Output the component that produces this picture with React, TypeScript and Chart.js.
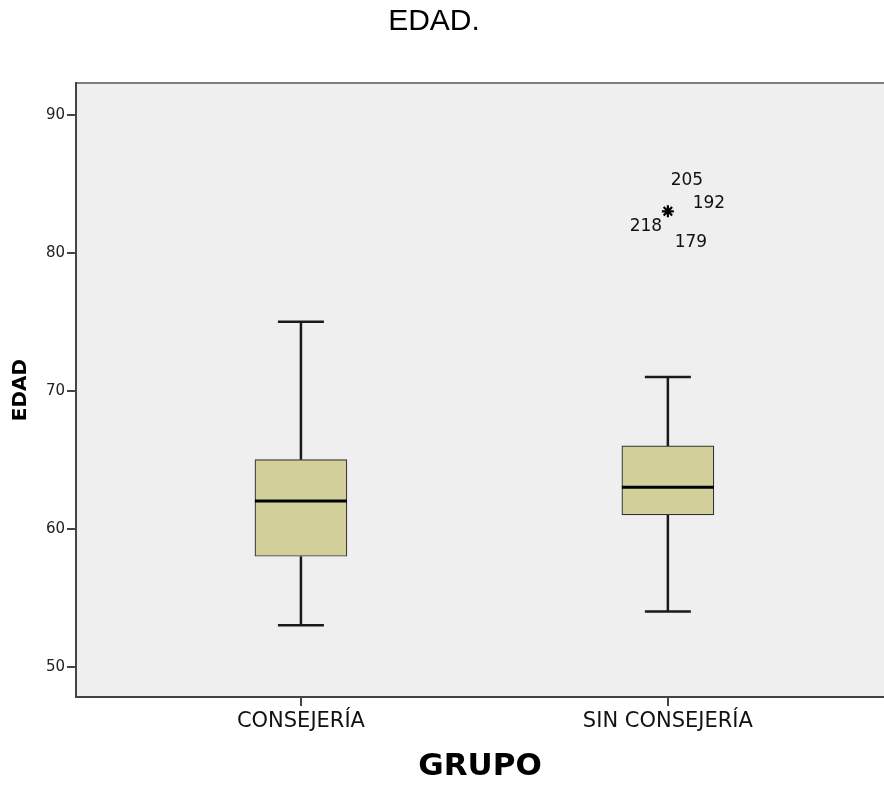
import React, { useEffect, useRef } from 'react';
import { Chart, registerables } from 'chart.js';

Chart.register(...registerables);

const chartTitle = 'EDAD.';
const categories = ['CONSEJERÍA', 'SIN CONSEJERÍA'];
const whiskerLow = [53, 54];
const q1 = [58, 61];
const median = [62, 63];
const q3 = [65, 66];
const whiskerHigh = [75, 71];
const outlierGroup = [2];
const outlierValue = [83];
const outlierIds = ['205', '192', '218', '179'];
const yTicks = [50, 60, 70, 80, 90];
const yTitle = 'EDAD';
const xTitle = 'GRUPO';

// label placement around the outlier star (style only)
const labelOffsets = [
  [19, -31],
  [41, -8],
  [-22, 15],
  [23, 31],
];

const BOX_FILL = '#d3cf9b';
const LINE = '#1a1a1a';
const BOX_HALF = 46;
const CAP_HALF = 23;

const boxPlugin = {
  id: 'boxExtras',
  beforeDraw(chart: any) {
    const { ctx, chartArea: a } = chart;
    ctx.save();
    ctx.fillStyle = '#ffffff';
    ctx.fillRect(0, 0, chart.width, chart.height);
    ctx.fillStyle = '#efefef';
    ctx.fillRect(a.left, a.top, a.right - a.left, a.bottom - a.top);
    ctx.strokeStyle = '#7d7d7d';
    ctx.lineWidth = 2;
    ctx.beginPath();
    ctx.moveTo(a.left, a.top);
    ctx.lineTo(a.right, a.top);
    ctx.stroke();
    ctx.restore();
  },
  beforeDatasetsDraw(chart: any) {
    const { ctx } = chart;
    const xs = chart.scales.x;
    const ys = chart.scales.y;
    ctx.save();
    ctx.strokeStyle = LINE;
    ctx.lineWidth = 2.5;
    categories.forEach((_, i) => {
      const x = xs.getPixelForValue(i + 1);
      const yHi = ys.getPixelForValue(whiskerHigh[i]);
      const yLo = ys.getPixelForValue(whiskerLow[i]);
      const yQ3 = ys.getPixelForValue(q3[i]);
      const yQ1 = ys.getPixelForValue(q1[i]);
      ctx.beginPath();
      ctx.moveTo(x, yQ3);
      ctx.lineTo(x, yHi);
      ctx.moveTo(x, yQ1);
      ctx.lineTo(x, yLo);
      ctx.moveTo(x - CAP_HALF, yHi);
      ctx.lineTo(x + CAP_HALF, yHi);
      ctx.moveTo(x - CAP_HALF, yLo);
      ctx.lineTo(x + CAP_HALF, yLo);
      ctx.stroke();
    });
    ctx.restore();
  },
  afterDatasetsDraw(chart: any) {
    const { ctx } = chart;
    const xs = chart.scales.x;
    const ys = chart.scales.y;
    ctx.save();
    ctx.strokeStyle = '#000';
    ctx.lineWidth = 3;
    categories.forEach((_, i) => {
      const x = xs.getPixelForValue(i + 1);
      const y = ys.getPixelForValue(median[i]);
      ctx.beginPath();
      ctx.moveTo(x - BOX_HALF, y);
      ctx.lineTo(x + BOX_HALF, y);
      ctx.stroke();
    });
    ctx.fillStyle = '#111';
    ctx.font = '17px "DejaVu Sans"';
    ctx.textAlign = 'center';
    ctx.textBaseline = 'middle';
    outlierGroup.forEach((g, k) => {
      const x = xs.getPixelForValue(g);
      const y = ys.getPixelForValue(outlierValue[k]);
      outlierIds.forEach((id, j) => {
        const [dx, dy] = labelOffsets[j];
        ctx.fillText(id, x + dx, y + dy);
      });
    });
    ctx.restore();
  },
  afterDraw(chart: any) {
    const { ctx } = chart;
    ctx.save();
    ctx.fillStyle = '#000';
    ctx.font = '30px "Liberation Sans"';
    ctx.textAlign = 'center';
    ctx.textBaseline = 'middle';
    ctx.fillText(chartTitle, 434, 22);
    ctx.restore();
  },
};

export default function App() {
  const ref = useRef<HTMLCanvasElement | null>(null);

  useEffect(() => {
    if (!ref.current) return;
    const chart = new Chart(ref.current, {
      type: 'bar',
      data: {
        datasets: [
          {
            type: 'bar',
            data: categories.map((_, i) => ({ x: i + 1, y: [q1[i], q3[i]] })) as any,
            backgroundColor: BOX_FILL,
            borderColor: '#333333',
            borderWidth: 1.2,
            borderSkipped: false,
            barThickness: BOX_HALF * 2,
            grouped: false,
          } as any,
          {
            type: 'scatter',
            data: outlierGroup.map((g, k) => ({ x: g, y: outlierValue[k] })),
            pointStyle: 'star',
            radius: 6,
            borderColor: '#000',
            borderWidth: 2.2,
            backgroundColor: '#000',
          } as any,
        ],
      },
      options: {
        responsive: false,
        animation: false,
        layout: { autoPadding: false, padding: { top: 83, left: 0, right: 0, bottom: 0 } },
        plugins: {
          legend: { display: false },
          tooltip: { enabled: false },
          title: { display: false },
        },
        scales: {
          x: {
            type: 'linear',
            offset: false,
            bounds: 'data',
            min: 0.387,
            max: 2.589,
            afterBuildTicks: (s: any) => {
              s.ticks = categories.map((_, i) => ({ value: i + 1 }));
            },
            afterFit: (s: any) => {
              s.height = 90;
              s.paddingLeft = 0;
              s.paddingRight = 0;
            },
            ticks: {
              callback: (v: any) => categories[Math.round(v) - 1] ?? '',
              font: { family: 'DejaVu Sans', size: 21 },
              color: '#111',
              padding: 3,
              maxRotation: 0,
              autoSkip: false,
            },
            grid: {
              offset: false,
              drawOnChartArea: false,
              drawTicks: true,
              tickLength: 9,
              color: '#444',
              lineWidth: 2,
            },
            border: { display: true, color: '#444', width: 2 },
            title: {
              display: true,
              text: xTitle,
              font: { family: 'DejaVu Sans', size: 31, weight: 'bold' },
              color: '#000',
              padding: { top: 0, bottom: 1 },
            },
          },
          y: {
            type: 'linear',
            min: 47.8,
            max: 92.3,
            afterBuildTicks: (s: any) => {
              s.ticks = yTicks.map((v) => ({ value: v }));
            },
            afterFit: (s: any) => {
              s.width = 76;
            },
            ticks: {
              font: { family: 'DejaVu Sans', size: 15 },
              color: '#222',
              padding: 2,
            },
            grid: {
              drawOnChartArea: false,
              drawTicks: true,
              tickLength: 9,
              color: '#444',
              lineWidth: 2,
            },
            border: { display: true, color: '#444', width: 2 },
            title: {
              display: true,
              text: yTitle,
              font: { family: 'DejaVu Sans', size: 20, weight: 'bold' },
              color: '#000',
              padding: { top: 9, bottom: 0 },
            },
          },
        },
      } as any,
      plugins: [boxPlugin],
    });
    return () => chart.destroy();
  }, []);

  return (
    <div style={{ position: 'absolute', left: 0, top: 0, width: 884, height: 787 }}>
      <canvas ref={ref} width={884} height={787} style={{ width: 884, height: 787, display: 'block' }} />
    </div>
  );
}
